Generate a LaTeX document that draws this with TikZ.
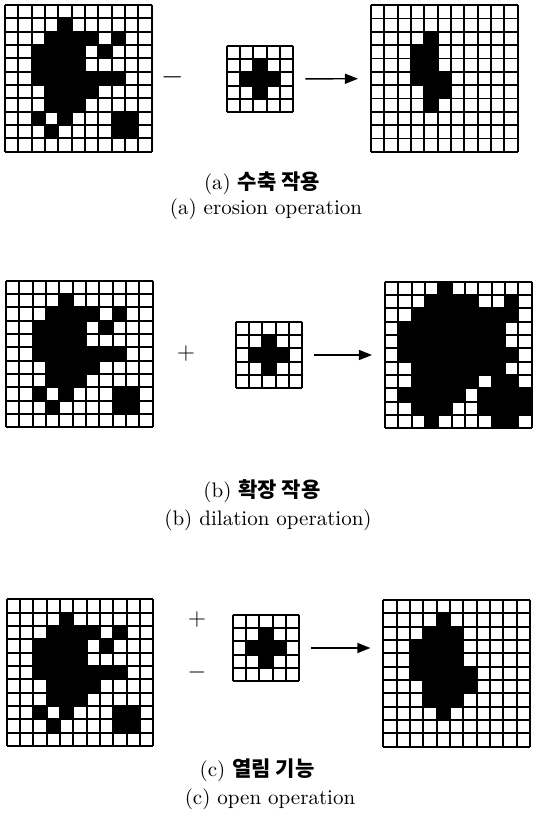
\documentclass[tikz,border=0pt]{standalone}
\usepackage{fontspec}
\newfontfamily\krfont{Noto Sans CJK KR}
\usetikzlibrary{positioning,arrows.meta,calc}

\newcommand{\cellsz}{6.667pt}
% black cells, row/col counted from the top left
\newcommand{\srcCells}{1/4,2/3,2/4,2/5,2/6,2/8,3/2,3/3,3/4,3/5,3/7,4/2,4/3,4/4,4/5,5/2,5/3,5/4,5/5,5/6,5/7,5/8,6/3,6/4,6/5,6/6,7/3,7/4,7/5,8/2,8/4,8/8,8/9,9/3,9/8,9/9}
\newcommand{\plusCells}{1/2,2/1,2/2,2/3,3/2}
\newcommand{\erodeCells}{2/4,3/3,3/4,4/3,4/4,5/3,5/4,5/5,6/4,6/5,7/4}
\newcommand{\dilateCells}{0/4,1/3,1/4,1/5,1/6,1/9,2/2,2/3,2/4,2/5,2/6,2/7,2/8,2/9,3/1,3/2,3/3,3/4,3/5,3/6,3/7,3/8,4/1,4/2,4/3,4/4,4/5,4/6,4/7,4/8,5/1,5/2,5/3,5/4,5/5,5/6,5/7,5/8,5/9,6/2,6/3,6/4,6/5,6/6,6/7,6/8,7/2,7/3,7/4,7/5,7/6,7/8,7/9,8/1,8/2,8/3,8/4,8/5,8/7,8/8,8/9,8/10,9/2,9/3,9/4,9/7,9/8,9/9,9/10,10/3,10/8,10/9}
\newcommand{\openCells}{1/4,2/3,2/4,2/5,3/2,3/3,3/4,3/5,4/2,4/3,4/4,4/5,5/2,5/3,5/4,5/5,5/6,6/3,6/4,6/5,6/6,7/3,7/4,7/5,8/4}

\tikzset{
  gridFrame/.style={rectangle, draw=none, inner sep=0pt, outer sep=0pt},
  cellLine/.style={line width=0.9pt, black},
  flowArrow/.style={-{Triangle[length=6.5pt,width=5pt]}, line width=0.7pt, shorten <=6pt, shorten >=6.5pt},
  opSign/.style={font=\large, inner sep=1pt},
  capText/.style={font=\fontsize{10.5}{12}\selectfont, inner sep=1pt}
}

% #1 name, #2 centre, #3 cells per side, #4 list of black cells
\newcommand{\pixgrid}[4]{%
  \node[gridFrame, minimum size=#3*\cellsz] (#1) at (#2) {};
  \begin{scope}[shift={(#1.north west)}, x=\cellsz, y=-\cellsz]
    \foreach \r/\c in #4 \fill (\c,\r) rectangle ++(1,1);
    \foreach \i in {0,...,#3} {
      \draw[cellLine] (\i,0) -- (\i,#3);
      \draw[cellLine] (0,\i) -- (#3,\i);
    }
  \end{scope}
}

\begin{document}
\begin{tikzpicture}[x=0.5pt, y=-0.5pt]
    \useasboundingbox (0,0) rectangle (534,824);

    % (a) erosion
    \pixgrid{inA}{78.3,78.3}{11}{\srcCells}
    \pixgrid{seA}{260,79}{5}{\plusCells}
    \pixgrid{outA}{444.3,78.5}{11}{\erodeCells}
    \node[opSign, font=\Large] (minA) at (173,77) {$-$};
    \draw[flowArrow] (seA) -- (outA);
    \node[capText] (capAk) at (262,183) {(a) {\krfont\bfseries 수축 작용}};
    \node[capText] (capAe) at (266,209) {(a) erosion operation};

    % (b) dilation
    \pixgrid{inB}{79.3,354}{11}{\srcCells}
    \pixgrid{seB}{269,355}{5}{\plusCells}
    \pixgrid{outB}{458.3,355}{11}{\dilateCells}
    \node[opSign] (plusB) at (186,353) {$+$};
    \draw[flowArrow] (seB) -- (outB);
    \node[capText] (capBk) at (262,491) {(b) {\krfont\bfseries 확장 작용}};
    \node[capText] (capBe) at (268,520) {(b) dilation operation)};

    % (c) opening
    \pixgrid{inC}{80,672.7}{11}{\srcCells}
    \pixgrid{seC}{266,648}{5}{\plusCells}
    \pixgrid{outC}{456.7,673.3}{11}{\openCells}
    \node[opSign] (plusC) at (197,619) {$+$};
    \node[opSign] (minC) at (197,672) {$-$};
    \draw[flowArrow] (seC.east) -- (seC.east -| outC.west);
    \node[capText] (capCk) at (257,770) {(c) {\krfont\bfseries 열림 기능}};
    \node[capText] (capCe) at (270,799) {(c) open operation};
\end{tikzpicture}
\end{document}
